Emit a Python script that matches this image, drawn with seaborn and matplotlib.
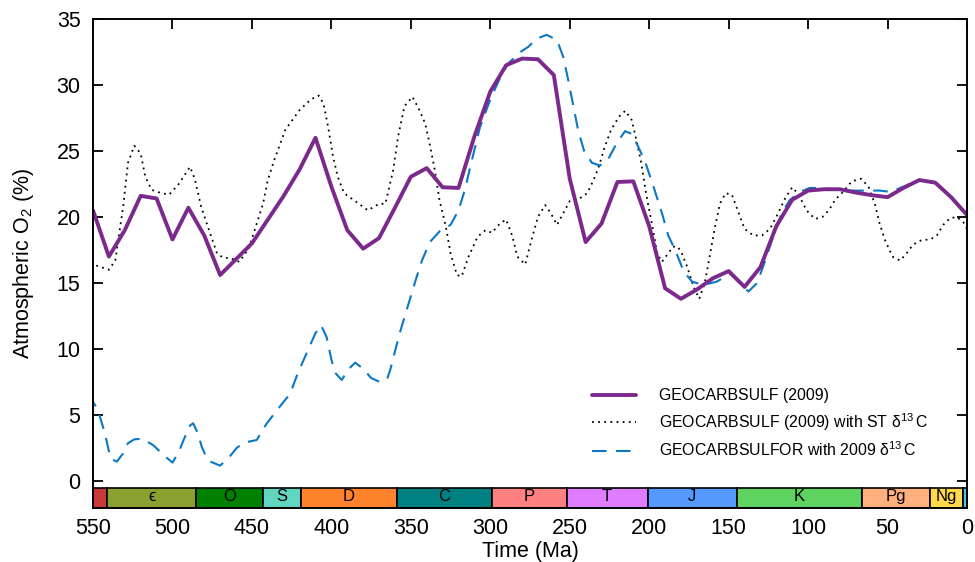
import numpy as np
import pandas as pd
import matplotlib
matplotlib.use("Agg")
import matplotlib.pyplot as plt
import seaborn as sns

# GEOCARBSULF (2009) - piecewise linear, 10 Ma steps
geo_t = [550, 540, 530, 520, 510, 500, 490, 480, 470, 460, 450, 440, 430, 420, 410,
         400, 390, 380, 370, 360, 350, 340, 330, 320, 310, 300, 290, 280, 270, 260,
         250, 240, 230, 220, 210, 200, 190, 180, 170, 160, 150, 140, 130, 120, 110,
         100, 90, 80, 70, 60, 50, 40, 30, 20, 10, 0]
geo_o2 = [20.5, 17.0, 19.0, 21.6, 21.4, 18.3, 20.7, 18.6, 15.6, 16.8, 18.0, 19.8, 21.6, 23.6, 26.0,
          22.3, 19.0, 17.6, 18.4, 20.7, 23.05, 23.7, 22.25, 22.2, 26.1, 29.5, 31.5, 32.0, 31.95, 30.75,
          22.9, 18.1, 19.5, 22.65, 22.7, 19.3, 14.6, 13.8, 14.5, 15.35, 15.9, 14.7, 16.2, 19.3, 21.3,
          22.0, 22.1, 22.1, 21.85, 21.65, 21.5, 22.2, 22.8, 22.6, 21.5, 20.15]

# GEOCARBSULF (2009) with ST d13C
st_t = [550, 545, 540, 536, 531, 528, 524, 520, 517, 513, 507, 502, 496, 489, 486, 482, 477, 472,
        468, 464, 458, 452, 447, 443, 440, 436, 429, 420, 413, 408, 405, 402, 399, 396, 392, 385,
        377, 370, 366, 361, 358, 354, 349, 345, 341, 338, 335, 332, 328, 325, 321, 318, 314, 308,
        303, 299, 294, 290, 286, 283, 278, 274, 270, 265.5, 262, 258, 254, 250, 245, 239, 235, 232,
        228, 224, 219, 215, 211, 208, 205, 202, 198, 195, 192, 188, 185, 182, 179.5, 176, 172,
        168.5, 165, 162, 158.5, 155.5, 152, 148, 144, 140, 134.5, 129, 124, 120, 114.5, 110, 106,
        101, 95.6, 91, 87, 83, 78, 72.5, 66.6, 62, 58, 55, 51.6, 48.4, 46.4, 42, 38, 34, 28.6, 23,
        19, 15, 10.7, 6.5, 2.3, 0]
st_o2 = [16.4, 16.2, 16.0, 16.7, 20.8, 24.1, 25.4, 24.8, 23.0, 22.05, 21.8, 21.7, 22.5, 23.8, 22.9,
         20.8, 19.0, 17.25, 16.9, 16.9, 16.6, 17.6, 19.5, 21.0, 22.8, 24.3, 26.6, 28.1, 28.9, 29.2,
         28.6, 26.8, 24.6, 23.05, 21.8, 21.2, 20.5, 21.0, 21.0, 23.6, 26.1, 28.4, 29.1, 28.2, 27.1,
         25.45, 23.6, 21.3, 19.3, 17.25, 15.6, 15.5, 16.9, 18.5, 19.0, 18.8, 19.5, 19.8, 18.5, 17.0,
         16.4, 18.3, 20.0, 20.9, 20.3, 19.4, 20.3, 21.2, 21.3, 21.8, 22.8, 23.7, 25.3, 26.6, 27.6,
         28.05, 27.35, 25.8, 24.1, 21.8, 19.3, 17.25, 16.6, 17.25, 17.75, 17.75, 17.25, 16.2, 14.7,
         13.8, 15.0, 17.0, 19.3, 21.0, 21.8, 21.7, 20.4, 19.1, 18.6, 18.6, 19.1, 20.0, 21.4, 22.25,
         21.7, 20.5, 19.85, 20.0, 20.5, 21.3, 21.9, 22.7, 22.9, 22.3, 21.0, 19.5, 18.25, 17.4, 16.95,
         16.7, 17.25, 17.9, 18.25, 18.3, 18.6, 19.4, 19.9, 20.0, 19.6, 19.1]

# GEOCARBSULFOR with 2009 d13C
or_t = [550, 547, 542.5, 539, 535, 531, 528, 524, 519, 512, 506, 500, 496, 493, 489, 487, 484,
        481.6, 478, 476, 470, 465, 459.6, 455, 447, 441, 434, 426, 421, 415.5, 410, 406.5, 403,
        400, 397.7, 393.5, 389, 385, 380, 375, 369.5, 365, 363, 357, 353, 350, 347, 343, 338, 332,
        325, 320, 316, 312, 306.5, 300, 294, 289, 281, 276, 271, 264.5, 258, 254, 251, 247.7,
        244.6, 240.8, 236, 231, 225.7, 220.4, 215.2, 211, 206.8, 202.6, 197.3, 192, 188, 183.7,
        180, 178.5, 173, 166, 157.5, 149, 143, 137.6, 132, 127, 122, 116.6, 111.4, 105, 99, 92.5,
        85, 75, 65, 55, 48, 40, 30, 20, 10, 0]
or_o2 = [6.0, 5.4, 3.6, 1.7, 1.46, 2.1, 2.86, 3.15, 3.2, 2.7, 2.0, 1.39, 2.2, 3.1, 4.2, 4.37, 3.6,
         2.6, 1.6, 1.46, 1.16, 1.7, 2.5, 2.9, 3.1, 4.3, 5.4, 6.6, 8.2, 9.7, 11.2, 11.8, 10.9,
         9.2, 8.2, 7.65, 8.5, 8.96, 8.5, 7.8, 7.5, 7.7, 8.4, 11.2, 12.8, 14.0, 15.2, 16.7, 18.1, 18.9,
         19.4, 20.5, 22.05, 24.1, 26.8, 28.9, 30.5, 31.6, 32.5, 32.9, 33.5, 33.8, 33.4, 32.1, 30.4,
         28.4, 26.5, 24.95, 24.1, 23.9, 24.4, 25.6, 26.5, 26.3, 25.3, 24.2, 22.3, 20.3, 18.6, 17.5,
         16.4, 15.9, 15.1, 14.85, 15.1, 15.7, 15.0, 14.35, 15.0, 16.7, 18.5, 20.3, 21.3, 21.9, 22.2,
         22.2, 22.1, 22.0, 22.0, 22.0, 21.9, 22.3, 22.8, 22.65, 21.5, 20.15]

# geologic periods (start, end in Ma)
per_labels = ["", "\u03f5", "O", "S", "D", "C", "P", "T", "J", "K", "Pg", "Ng", ""]
per_start = [550, 541, 485, 443, 419, 359, 299, 252, 201, 145, 66, 23, 2.6]
per_end = [541, 485, 443, 419, 359, 299, 252, 201, 145, 66, 23, 2.6, 0]
per_colors = ["#c83a3a", "#8aa12f", "#008000", "#60d6c0", "#ff832c", "#008080", "#ff8080",
              "#e07cff", "#5599ff", "#5fd35f", "#ffb07c", "#ffd84c", "#3cc8f0"]

sns.set_style("ticks")
plt.rcParams["font.family"] = ["Liberation Sans", "DejaVu Sans"]
plt.rcParams["mathtext.fontset"] = "custom"
plt.rcParams["mathtext.rm"] = "Liberation Sans"
plt.rcParams["mathtext.it"] = "Liberation Sans:italic"
for k in ["text.color", "axes.labelcolor", "xtick.color", "ytick.color", "axes.edgecolor"]:
    plt.rcParams[k] = "black"

fig = plt.figure(figsize=(9.75, 5.62), dpi=100)
ax = fig.add_axes([0.0954, 0.0961, 0.8964, 0.8701])

# period bar
ax.barh(y=[-1.275] * len(per_start),
        width=np.array(per_start) - np.array(per_end),
        left=per_end, height=1.55, color=per_colors,
        edgecolor="black", linewidth=1.2, zorder=3)
for s, e, lab in zip(per_start, per_end, per_labels):
    if lab:
        ax.text((s + e) / 2, -1.2, lab, ha="center", va="center", fontsize=12, zorder=4)

sns.lineplot(x=geo_t, y=geo_o2, ax=ax, color="#7b2a8c", lw=2.8, estimator=None,
             label="GEOCARBSULF (2009)", zorder=5)
sns.lineplot(x=st_t, y=st_o2, ax=ax, color="black", lw=1.3, estimator=None,
             linestyle=(0, (1, 2.4)), label="GEOCARBSULF (2009) with ST \u03b4$^{13}\\,$C", zorder=4)
sns.lineplot(x=or_t, y=or_o2, ax=ax, color="#0a78c4", lw=1.5, estimator=None,
             linestyle=(0, (7, 4.5)), label="GEOCARBSULFOR with 2009 \u03b4$^{13}\\,$C", zorder=4)

ax.set_xlim(550, 0)
ax.set_ylim(-2.05, 35)
ax.set_xticks(np.arange(0, 551, 50))
ax.set_yticks(np.arange(0, 36, 5))
ax.tick_params(direction="in", length=7, width=1.3, top=True, right=True, labelsize=15.5)
ax.tick_params(axis="y", pad=9)
ax.tick_params(axis="x", pad=7)
for sp in ax.spines.values():
    sp.set_linewidth(1.4)
    sp.set_zorder(6)

ax.set_xlabel("Time (Ma)", fontsize=15.5, labelpad=2)
ax.set_ylabel("Atmospheric O$_2$ (%)", fontsize=15.5, labelpad=15)

ax.legend(loc="upper left", bbox_to_anchor=(0.571, 0.245), frameon=False, fontsize=11.4,
          handlelength=2.8, handletextpad=1.4, labelspacing=0.5, borderpad=0, borderaxespad=0)

fig.savefig("out.png", dpi=100)
